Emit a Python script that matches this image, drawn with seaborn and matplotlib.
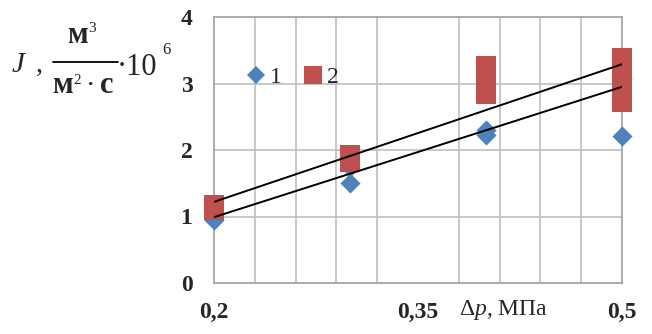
import numpy as np
import pandas as pd
import matplotlib
matplotlib.use("Agg")
import matplotlib.pyplot as plt
from matplotlib.lines import Line2D
import seaborn as sns

# Pressure drop (MPa) and permeate flux (m3/(m2*s) * 1e6)
dp_1 = [0.2, 0.3, 0.3, 0.4, 0.4, 0.5, 0.5]
flux_1 = [0.95, 1.5, 1.75, 2.22, 2.3, 2.21, 3.07]
dp_2 = [0.2, 0.2, 0.3, 0.3, 0.4, 0.4, 0.4, 0.4, 0.5, 0.5, 0.5, 0.5, 0.5]
flux_2 = [1.1, 1.17, 1.82, 1.92, 2.84, 2.97, 3.1, 3.26, 2.72, 2.87, 3.05, 3.2, 3.38]

# Linear trend lines for both series
trend_dp = [0.2, 0.5]
trend_1 = [0.99, 2.95]
trend_2 = [1.22, 3.29]

x_ticks = [0.2, 0.35, 0.5]
x_tick_labels = ["0,2", "0,35", "0,5"]
y_ticks = [0, 1, 2, 3, 4]
series_labels = ["1", "2"]

BLUE = "#4f81bd"
RED = "#c0504d"
GRID = "#bfbfbf"
SPINE = "#a6a6a6"
SERIF = "Liberation Serif"

sns.set_style("white")
plt.rcParams["font.family"] = [SERIF, "DejaVu Serif"]
plt.rcParams["mathtext.fontset"] = "custom"
plt.rcParams["mathtext.rm"] = SERIF
plt.rcParams["mathtext.it"] = SERIF + ":italic"
plt.rcParams["mathtext.bf"] = SERIF + ":bold"

W, H = 652, 334
fig = plt.figure(figsize=(W / 100, H / 100), dpi=100)
ax = fig.add_axes([214 / W, (H - 283) / H, 408 / W, 266 / H])

df1 = pd.DataFrame({"dp": dp_1, "flux": flux_1})
df2 = pd.DataFrame({"dp": dp_2, "flux": flux_2})
dft = pd.DataFrame({"dp": trend_dp * 2,
                    "flux": trend_1 + trend_2,
                    "series": ["1"] * 2 + ["2"] * 2})

sns.scatterplot(data=df1, x="dp", y="flux", marker="D", s=105, color=BLUE,
                linewidth=0, ax=ax, zorder=3, clip_on=False)
sns.scatterplot(data=df2, x="dp", y="flux", marker="s", s=215, color=RED,
                linewidth=0, ax=ax, zorder=4, clip_on=False)
sns.lineplot(data=dft, x="dp", y="flux", units="series", estimator=None,
             color="black", linewidth=1.4, ax=ax, zorder=5, legend=False)

ax.set_xlim(0.2, 0.5)
ax.set_ylim(0, 4)
ax.set_xticks(x_ticks)
ax.set_xticklabels(x_tick_labels)
ax.set_xticks(np.linspace(0.2, 0.5, 11), minor=True)
ax.set_yticks(y_ticks)
ax.set_yticklabels([str(v) for v in y_ticks])
ax.set_xlabel("")
ax.set_ylabel("")

ax.grid(True, which="minor", axis="x", color=GRID, linewidth=1.2)
ax.grid(True, which="major", axis="y", color=GRID, linewidth=1.2)
ax.set_axisbelow(True)
for sp in ax.spines.values():
    sp.set_color(SPINE)
    sp.set_linewidth(1.3)

ax.tick_params(axis="x", which="major", length=6, width=1.3, color=SPINE,
               pad=8, labelsize=17)
ax.tick_params(axis="x", which="minor", length=0)
ax.tick_params(axis="y", which="major", length=6.5, width=1.3, color=SPINE,
               pad=9, labelsize=17)
for lab in ax.get_xticklabels() + ax.get_yticklabels():
    lab.set_fontweight("bold")

# Legend
handles = [Line2D([], [], marker="D", ls="none", color=BLUE, ms=9, mew=0),
           Line2D([], [], marker="s", ls="none", color=RED, ms=12.5, mew=0)]
ax.legend(handles, series_labels, ncol=2, loc="center left",
          bbox_to_anchor=(0.08, 0.772), frameon=False, fontsize=17,
          handlelength=0.8, handletextpad=0.2, columnspacing=0.9,
          borderpad=0, borderaxespad=0)


def ptext(x, y, s, **kw):
    """Place text at pixel coordinates (origin top-left)."""
    return fig.text(x / W, 1 - y / H, s, **kw)


# Y-axis title: J, m3/(m2*s) * 10^6
ptext(12, 72, "J", fontsize=21, style="italic", va="baseline", ha="left")
ptext(36, 72, ",", fontsize=20, va="baseline", ha="left")
ptext(67, 43, "м", fontsize=22, weight="bold", va="baseline", ha="left")
ptext(88, 32, "3", fontsize=11, va="baseline", ha="left")
fig.add_artist(Line2D([53 / W, 118 / W], [1 - 62 / H, 1 - 62 / H],
                      color="black", linewidth=1.3))
ptext(52, 93, "м", fontsize=22, weight="bold", va="baseline", ha="left")
ptext(73, 84, "2", fontsize=11, va="baseline", ha="left")
ptext(86, 90, "·", fontsize=16, weight="bold", va="baseline", ha="left")
ptext(100, 93, "с", fontsize=22, weight="bold", va="baseline", ha="left")
ptext(117, 75, "·10", fontsize=22, va="baseline", ha="left")
ptext(162, 54, "6", fontsize=12, va="baseline", ha="left")

# X-axis title: Δp, MPa
ptext(459, 315, r"$\Delta\mathit{p}$, МПа", fontsize=17, va="baseline",
      ha="left")

fig.savefig("out.png", dpi=100)
